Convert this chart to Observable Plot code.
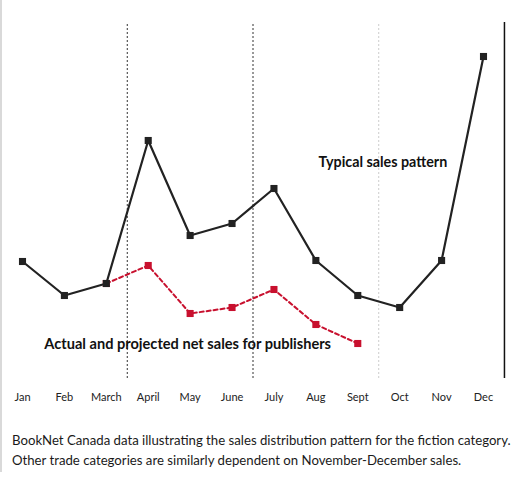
<!DOCTYPE html>
<html>
<head>
<meta charset="utf-8">
<script src="https://cdn.jsdelivr.net/npm/d3@7"></script>
<script src="https://cdn.jsdelivr.net/npm/@observablehq/plot@0.6"></script>
<style>
  body { margin: 0; background: #fff; font-family: Lato, "Open Sans", sans-serif; }
  #wrap { border-left: 2px solid #d9d9d9; width: 515px; height: 472px; }
  #caption { margin: 20px 0 0 10px; font-size: 13.2px; line-height: 20px; color: #1a1a1a; white-space: nowrap; }
</style>
</head>
<body>
<div id="wrap">
  <div id="chart"></div>
  <div id="caption">BookNet Canada data illustrating the sales distribution pattern for the fiction category.<br>Other trade categories are similarly dependent on November-December sales.</div>
</div>
<script>
const months = ["Jan","Feb","March","April","May","June","July","Aug","Sept","Oct","Nov","Dec"];
// patrón típico de ventas (unidades relativas)
const typical = [11.7, 8.3, 9.5, 23.8, 14.3, 15.5, 19.0, 11.8, 8.3, 7.1, 11.8, 32.2];
// ventas reales y proyectadas, de marzo a septiembre
const actualMonths = ["March","April","May","June","July","Aug","Sept"];
const actual = [9.5, 11.3, 6.5, 7.1, 8.9, 5.4, 3.5];
const dividers = [2.5, 5.5, 8.5];

const typData = months.map((m, i) => ({i, v: typical[i]}));
const actData = actualMonths.map((m, k) => ({i: months.indexOf(m), v: actual[k]}));

const red = "#c8102e";

let chart = Plot.plot({
  width: 515,
  height: 410,
  marginLeft: 0,
  marginRight: 0,
  marginTop: 0,
  marginBottom: 30,
  style: {fontFamily: "Lato, sans-serif", fontSize: "11px", color: "#222"},
  x: {type: "linear", domain: [0, 11], range: [20, 481], ticks: d3.range(12), tickFormat: i => months[i], tickSize: 0, tickPadding: 13, label: null},
  y: {domain: [0, 35.6], range: [378, 22], axis: null},
  marks: [
    Plot.ruleX(dividers.slice(0, 2), {y1: 0, y2: 35.6, stroke: "#333", strokeWidth: 1, strokeDasharray: "2,2"}),
    Plot.ruleX([dividers[2]], {y1: 0, y2: 35.6, stroke: "#ccc", strokeWidth: 1, strokeDasharray: "2,2"}),
    Plot.ruleX([11.5], {y1: 0, y2: 35.6, stroke: "#111", strokeWidth: 1.5}),
    Plot.line(actData, {x: "i", y: "v", stroke: red, strokeWidth: 2, strokeDasharray: "4,3"}),
    Plot.dot(actData, {x: "i", y: "v", symbol: "square", r: 4, fill: red, stroke: null}),
    Plot.line(typData, {x: "i", y: "v", stroke: "#222", strokeWidth: 2.2}),
    Plot.dot(typData, {x: "i", y: "v", symbol: "square", r: 4, fill: "#222", stroke: null}),
    Plot.text(["Typical sales pattern"], {x: 8.6, y: 21.6, fontSize: 14.3, fontWeight: "bold", fill: "#111"}),
    Plot.text(["Actual and projected net sales for publishers"], {x: 0.52, y: 3.4, textAnchor: "start", fontSize: 14.6, fontWeight: "bold", fill: "#111"})
  ]
});

d3.select('#chart').append(() => chart);
</script>
</body>
</html>
